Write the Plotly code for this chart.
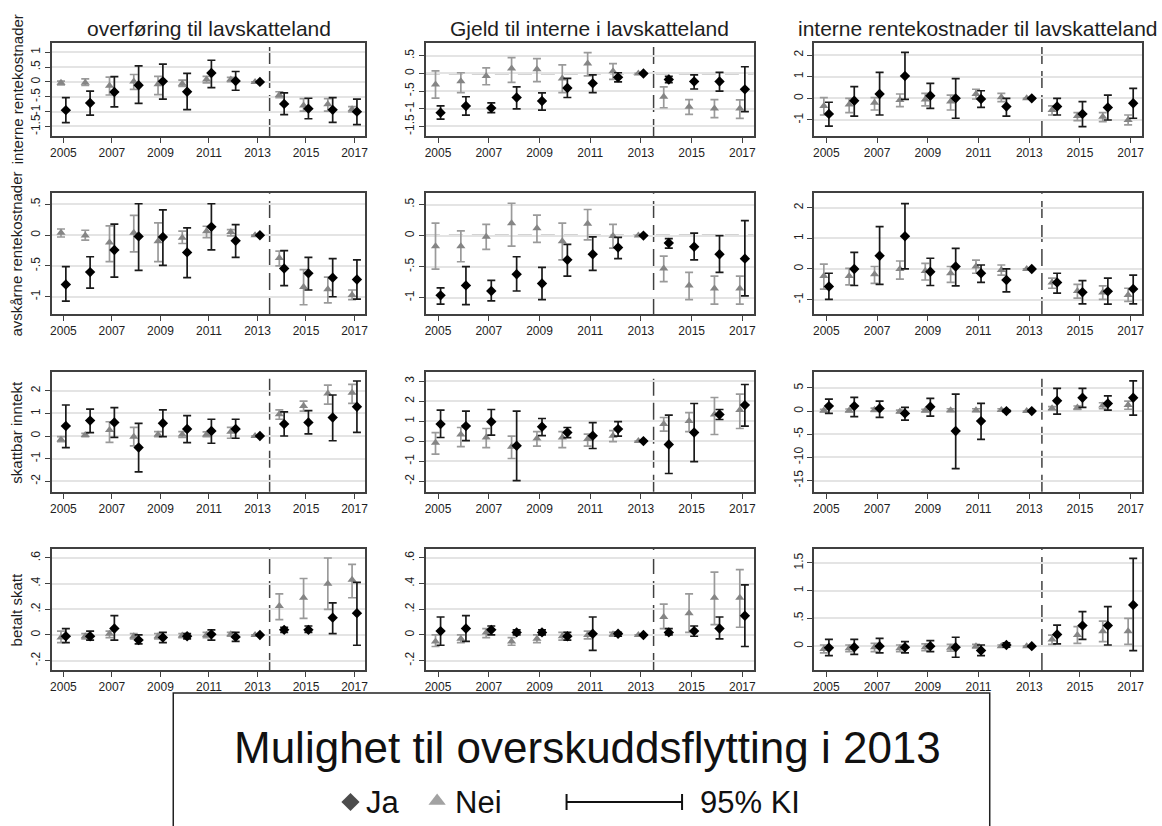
import plotly.graph_objects as go

# ---------------------------------------------------------------- data
YEARS = list(range(2005, 2018))
X_TICKS = [2005, 2007, 2009, 2011, 2013, 2015, 2017]

COL_TITLES = ["overføring til lavskatteland",
              "Gjeld til interne i lavskatteland",
              "interne rentekostnader til lavskatteland"]
ROW_TITLES = ["interne rentekostnader", "avskårne rentekostnader",
              "skattbar inntekt", "betalt skatt"]

# row 1: interne rentekostnader
int_overf_ja = [-0.95, -0.71, -0.34, -0.11, 0.02, -0.33, 0.30, 0.03, 0, -0.74, -0.90, -0.94, -1.00]
int_overf_ja_lo = [-1.37, -1.12, -0.84, -0.72, -0.58, -0.93, -0.19, -0.28, 0, -1.10, -1.24, -1.36, -1.44]
int_overf_ja_hi = [-0.53, -0.31, 0.18, 0.54, 0.60, 0.29, 0.73, 0.35, 0, -0.37, -0.55, -0.53, -0.58]
int_overf_nei = [-0.03, -0.03, -0.13, 0.01, -0.08, -0.06, 0.08, 0.08, 0, -0.44, -0.79, -0.75, -0.92]
int_overf_nei_lo = [-0.10, -0.12, -0.44, -0.25, -0.43, -0.15, -0.03, 0.01, 0, -0.53, -0.98, -0.98, -1.01]
int_overf_nei_hi = [0.03, 0.10, 0.16, 0.25, 0.19, 0.06, 0.19, 0.15, 0, -0.33, -0.56, -0.56, -0.83]

int_gjeld_ja = [-1.11, -0.92, -0.98, -0.68, -0.78, -0.41, -0.28, -0.11, 0, -0.17, -0.23, -0.23, -0.45]
int_gjeld_ja_lo = [-1.29, -1.18, -1.11, -1.00, -1.04, -0.68, -0.54, -0.24, 0, -0.26, -0.44, -0.50, -1.08]
int_gjeld_ja_hi = [-0.92, -0.66, -0.83, -0.38, -0.55, -0.14, -0.04, 0.02, 0, -0.085, -0.04, 0.03, 0.19]
int_gjeld_nei = [-0.31, -0.22, -0.075, 0.14, 0.12, -0.14, 0.28, 0.06, 0, -0.66, -0.94, -0.99, -0.99]
int_gjeld_nei_lo = [-0.70, -0.54, -0.32, -0.25, -0.23, -0.54, -0.07, -0.17, 0, -0.97, -1.16, -1.25, -1.27]
int_gjeld_nei_hi = [0.075, 0.02, 0.16, 0.45, 0.42, 0.245, 0.59, 0.28, 0, -0.38, -0.74, -0.74, -0.75]

int_rente_ja = [-0.72, -0.11, 0.20, 1.03, 0.12, 0.00, -0.03, -0.38, 0, -0.38, -0.72, -0.42, -0.23]
int_rente_ja_lo = [-1.28, -0.82, -0.77, -0.05, -0.46, -0.92, -0.42, -0.82, 0, -0.77, -1.31, -1.00, -0.92]
int_rente_ja_hi = [-0.18, 0.54, 1.20, 2.12, 0.69, 0.91, 0.35, 0.00, 0, 0.00, -0.15, 0.15, 0.46]
int_rente_nei = [-0.35, -0.28, -0.20, -0.08, -0.05, -0.15, 0.20, 0.05, 0, -0.54, -0.82, -0.85, -1.00]
int_rente_nei_lo = [-0.77, -0.66, -0.54, -0.38, -0.35, -0.54, -0.03, -0.15, 0, -0.77, -1.03, -1.08, -1.23]
int_rente_nei_hi = [0.03, 0.00, 0.03, 0.20, 0.23, 0.15, 0.42, 0.23, 0, -0.35, -0.66, -0.66, -0.77]

# row 2: avskårne rentekostnader
avsk_overf_ja = [-0.80, -0.60, -0.24, -0.02, -0.03, -0.28, 0.135, -0.09, 0, -0.54, -0.62, -0.69, -0.72]
avsk_overf_ja_lo = [-1.07, -0.86, -0.68, -0.57, -0.49, -0.69, -0.24, -0.36, 0, -0.82, -0.89, -1.00, -1.04]
avsk_overf_ja_hi = [-0.51, -0.35, 0.18, 0.51, 0.41, 0.12, 0.51, 0.17, 0, -0.25, -0.36, -0.38, -0.40]
avsk_overf_nei = [0.04, -0.005, -0.12, 0.04, -0.10, -0.04, 0.065, 0.05, 0, -0.37, -0.84, -0.88, -0.97]
avsk_overf_nei_lo = [-0.03, -0.08, -0.43, -0.27, -0.43, -0.135, -0.04, -0.01, 0, -0.50, -1.13, -1.10, -1.045]
avsk_overf_nei_hi = [0.10, 0.08, 0.15, 0.32, 0.20, 0.065, 0.145, 0.09, 0, -0.26, -0.56, -0.68, -0.89]

avsk_gjeld_ja = [-0.96, -0.80, -0.89, -0.62, -0.77, -0.39, -0.30, -0.19, 0, -0.12, -0.18, -0.30, -0.37]
avsk_gjeld_ja_lo = [-1.10, -1.11, -1.05, -0.89, -1.03, -0.65, -0.56, -0.37, 0, -0.20, -0.39, -0.59, -0.97]
avsk_gjeld_ja_hi = [-0.84, -0.50, -0.72, -0.34, -0.51, -0.14, -0.02, -0.03, 0, -0.05, 0.04, 0.00, 0.24]
avsk_gjeld_nei = [-0.17, -0.17, -0.02, 0.20, 0.12, -0.09, 0.19, -0.005, 0, -0.53, -0.80, -0.85, -0.85]
avsk_gjeld_nei_lo = [-0.54, -0.42, -0.22, -0.17, -0.11, -0.39, -0.07, -0.20, 0, -0.74, -1.03, -1.10, -1.10]
avsk_gjeld_nei_hi = [0.20, 0.075, 0.18, 0.52, 0.33, 0.20, 0.42, 0.18, 0, -0.33, -0.59, -0.65, -0.65]

avsk_rente_ja = [-0.57, 0.00, 0.43, 1.07, -0.09, 0.08, -0.14, -0.36, 0, -0.44, -0.76, -0.73, -0.65]
avsk_rente_ja_lo = [-0.99, -0.54, -0.50, 0.00, -0.54, -0.55, -0.44, -0.75, 0, -0.79, -1.14, -1.15, -1.14]
avsk_rente_ja_hi = [-0.14, 0.54, 1.38, 2.13, 0.35, 0.67, 0.13, 0.00, 0, -0.14, -0.38, -0.30, -0.20]
avsk_rente_nei = [-0.23, -0.23, -0.17, 0.00, -0.07, -0.14, 0.08, -0.03, 0, -0.44, -0.72, -0.77, -0.85]
avsk_rente_nei_lo = [-0.66, -0.52, -0.47, -0.33, -0.36, -0.44, -0.14, -0.20, 0, -0.63, -0.95, -0.99, -1.06]
avsk_rente_nei_hi = [0.16, 0.02, 0.08, 0.26, 0.18, 0.08, 0.29, 0.13, 0, -0.30, -0.50, -0.55, -0.63]

# row 3: skattbar inntekt
innt_overf_ja = [0.44, 0.68, 0.60, -0.51, 0.56, 0.31, 0.22, 0.31, 0, 0.53, 0.60, 0.82, 1.29]
innt_overf_ja_lo = [-0.51, 0.15, -0.06, -1.58, -0.03, -0.29, -0.32, -0.10, 0, 0.00, 0.09, -0.21, 0.16]
innt_overf_ja_hi = [1.37, 1.19, 1.25, 0.56, 1.15, 0.90, 0.74, 0.74, 0, 1.07, 1.12, 1.81, 2.43]
innt_overf_nei = [-0.15, 0.04, 0.26, -0.03, 0.07, 0.07, 0.07, 0.19, 0, 0.96, 1.32, 1.88, 1.91]
innt_overf_nei_lo = [-0.25, -0.03, -0.28, -0.44, -0.03, -0.06, -0.03, -0.10, 0, 0.74, 1.10, 1.41, 1.44]
innt_overf_nei_hi = [-0.03, 0.12, 0.63, 0.38, 0.19, 0.19, 0.18, 0.38, 0, 1.15, 1.54, 2.25, 2.28]

innt_gjeld_ja = [0.85, 0.75, 0.97, -0.23, 0.72, 0.43, 0.27, 0.60, 0, -0.17, 0.43, 1.33, 1.80]
innt_gjeld_ja_lo = [0.18, 0.02, 0.30, -1.98, 0.27, 0.17, -0.37, 0.25, 0, -1.62, -1.03, 1.08, 0.75]
innt_gjeld_ja_hi = [1.55, 1.50, 1.58, 1.50, 1.13, 0.68, 0.92, 0.97, 0, 1.30, 1.88, 1.58, 2.83]
innt_gjeld_nei = [-0.08, 0.33, 0.18, -0.28, 0.13, 0.18, 0.10, 0.27, 0, 0.85, 1.00, 1.33, 1.55]
innt_gjeld_nei_lo = [-0.65, -0.28, -0.33, -0.87, -0.25, -0.33, -0.25, -0.03, 0, 0.50, 0.47, 0.33, 0.63]
innt_gjeld_nei_hi = [0.42, 0.68, 0.63, 0.25, 0.47, 0.47, 0.35, 0.52, 0, 1.18, 1.42, 2.18, 2.35]

innt_rente_ja = [1.08, 1.08, 0.58, -0.50, 0.94, -4.30, -2.16, 0.00, 0, 2.23, 2.88, 1.65, 2.88]
innt_rente_ja_lo = [-0.50, -1.20, -1.37, -1.94, -1.08, -12.4, -6.10, -0.20, 0, -0.65, 0.80, 0.20, -0.86]
innt_rente_ja_hi = [2.60, 2.95, 2.16, 0.80, 2.73, 3.67, 1.65, 0.20, 0, 4.90, 4.90, 3.30, 6.50]
innt_rente_nei = [0.10, 0.15, 0.30, -0.10, 0.10, 0.20, 0.20, 0.25, 0, 0.60, 0.75, 1.20, 1.30]
innt_rente_nei_lo = [-0.20, -0.15, -0.05, -0.40, -0.20, -0.10, -0.10, 0.00, 0, 0.25, 0.35, 0.50, 0.40]
innt_rente_nei_hi = [0.40, 0.45, 0.65, 0.20, 0.40, 0.50, 0.50, 0.50, 0, 0.95, 1.10, 1.80, 2.15]

# row 4: betalt skatt
skatt_overf_ja = [-0.01, -0.01, 0.05, -0.04, -0.02, -0.01, 0.005, -0.015, 0, 0.04, 0.04, 0.135, 0.17]
skatt_overf_ja_lo = [-0.06, -0.04, -0.04, -0.07, -0.06, -0.03, -0.04, -0.05, 0, 0.02, 0.02, 0.01, -0.08]
skatt_overf_ja_hi = [0.05, 0.03, 0.15, 0.00, 0.02, 0.01, 0.04, 0.02, 0, 0.06, 0.07, 0.25, 0.41]
skatt_overf_nei = [-0.02, -0.01, 0.01, -0.01, -0.01, -0.005, 0.00, 0.005, 0, 0.226, 0.29, 0.40, 0.43]
skatt_overf_nei_lo = [-0.06, -0.03, -0.02, -0.03, -0.03, -0.02, -0.02, -0.01, 0, 0.12, 0.13, 0.20, 0.29]
skatt_overf_nei_hi = [0.03, 0.01, 0.03, 0.01, 0.01, 0.01, 0.02, 0.02, 0, 0.32, 0.44, 0.60, 0.55]

skatt_gjeld_ja = [0.03, 0.05, 0.04, 0.02, 0.02, -0.01, 0.01, 0.01, 0, 0.02, 0.03, 0.05, 0.15]
skatt_gjeld_ja_lo = [-0.08, -0.05, 0.00, 0.00, 0.00, -0.04, -0.12, -0.01, 0, 0.00, -0.01, -0.03, -0.09]
skatt_gjeld_ja_hi = [0.14, 0.15, 0.07, 0.04, 0.04, 0.02, 0.14, 0.02, 0, 0.05, 0.07, 0.14, 0.39]
skatt_gjeld_nei = [-0.05, -0.03, 0.02, -0.05, -0.03, -0.01, 0.00, 0.005, 0, 0.14, 0.17, 0.29, 0.29]
skatt_gjeld_nei_lo = [-0.09, -0.06, -0.02, -0.08, -0.06, -0.04, -0.03, -0.01, 0, 0.05, 0.02, 0.08, 0.06]
skatt_gjeld_nei_hi = [0.00, 0.00, 0.05, -0.02, 0.00, 0.02, 0.03, 0.02, 0, 0.24, 0.32, 0.49, 0.51]

skatt_rente_ja = [-0.03, -0.02, 0.00, -0.02, 0.00, -0.02, -0.08, 0.02, 0, 0.21, 0.37, 0.37, 0.74]
skatt_rente_ja_lo = [-0.17, -0.15, -0.12, -0.12, -0.10, -0.20, -0.17, -0.02, 0, 0.04, 0.12, 0.02, -0.08]
skatt_rente_ja_hi = [0.12, 0.12, 0.14, 0.08, 0.10, 0.16, 0.02, 0.06, 0, 0.38, 0.62, 0.71, 1.58]
skatt_rente_nei = [-0.05, -0.04, -0.02, -0.04, -0.02, -0.03, 0.00, 0.00, 0, 0.12, 0.20, 0.27, 0.27]
skatt_rente_nei_lo = [-0.12, -0.10, -0.10, -0.10, -0.08, -0.09, -0.03, -0.02, 0, 0.03, 0.05, 0.08, 0.03]
skatt_rente_nei_hi = [0.02, 0.02, 0.05, 0.02, 0.04, 0.03, 0.03, 0.02, 0, 0.20, 0.35, 0.45, 0.50]

# y-axis ticks (values and labels) per panel
ticks_15_1 = ([-1.5, -1, -0.5, 0, 0.5, 1], ["-1.5", "-1", "-.5", "0", ".5", "1"])
ticks_15_05 = ([-1.5, -1, -0.5, 0, 0.5], ["-1.5", "-1", "-.5", "0", ".5"])
ticks_1_2 = ([-1, 0, 1, 2], ["-1", "0", "1", "2"])
ticks_1_05 = ([-1, -0.5, 0, 0.5], ["-1", "-.5", "0", ".5"])
ticks_2_2 = ([-2, -1, 0, 1, 2], ["-2", "-1", "0", "1", "2"])
ticks_2_3 = ([-2, -1, 0, 1, 2, 3], ["-2", "-1", "0", "1", "2", "3"])
ticks_15_5 = ([-15, -10, -5, 0, 5], ["-15", "-10", "-5", "0", "5"])
ticks_02_06 = ([-0.2, 0, 0.2, 0.4, 0.6], ["-.2", "0", ".2", ".4", ".6"])
ticks_0_15 = ([0, 0.5, 1, 1.5], ["0", ".5", "1", "1.5"])

# ---------------------------------------------------------------- layout constants
W, H = 1162, 826
FONT = "Liberation Sans, Arial, Helvetica, sans-serif"
INK = "#1e1e1e"
FRAME = "#404040"
GRID = "#e4e4e4"
JA_COLOR = "#000000"
JA_CI = "#1a1a1a"
NEI_COLOR = "#858585"
NEI_CI = "#9a9a9a"
X_RANGE = [2004.52, 2017.45]
SHIFT = 0.1
CUTOFF = 2013.5

COL_PX = [(50, 365), (425.7, 755), (815.7, 1145)]
ROW_PX = [(42.7, 136), (193.3, 314), (371.7, 491.7), (549, 670)]


def fx(p):
    return p / W


def fy(p):
    return 1 - p / H


panels = [
    (0, 0, int_overf_ja, int_overf_ja_lo, int_overf_ja_hi, int_overf_nei, int_overf_nei_lo, int_overf_nei_hi, [-1.82, 1.32], ticks_15_1),
    (0, 1, int_gjeld_ja, int_gjeld_ja_lo, int_gjeld_ja_hi, int_gjeld_nei, int_gjeld_nei_lo, int_gjeld_nei_hi, [-1.77, 0.87], ticks_15_05),
    (0, 2, int_rente_ja, int_rente_ja_lo, int_rente_ja_hi, int_rente_nei, int_rente_nei_lo, int_rente_nei_hi, [-1.74, 2.57], ticks_1_2),
    (1, 0, avsk_overf_ja, avsk_overf_ja_lo, avsk_overf_ja_hi, avsk_overf_nei, avsk_overf_nei_lo, avsk_overf_nei_hi, [-1.28, 0.68], ticks_1_05),
    (1, 1, avsk_gjeld_ja, avsk_gjeld_ja_lo, avsk_gjeld_ja_hi, avsk_gjeld_nei, avsk_gjeld_nei_lo, avsk_gjeld_nei_hi, [-1.26, 0.68], ticks_1_05),
    (1, 2, avsk_rente_ja, avsk_rente_ja_lo, avsk_rente_ja_hi, avsk_rente_nei, avsk_rente_nei_lo, avsk_rente_nei_hi, [-1.47, 2.47], ticks_1_2),
    (2, 0, innt_overf_ja, innt_overf_ja_lo, innt_overf_ja_hi, innt_overf_nei, innt_overf_nei_lo, innt_overf_nei_hi, [-2.46, 2.84], ticks_2_2),
    (2, 1, innt_gjeld_ja, innt_gjeld_ja_lo, innt_gjeld_ja_hi, innt_gjeld_nei, innt_gjeld_nei_lo, innt_gjeld_nei_hi, [-2.53, 3.47], ticks_2_3),
    (2, 2, innt_rente_ja, innt_rente_ja_lo, innt_rente_ja_hi, innt_rente_nei, innt_rente_nei_lo, innt_rente_nei_hi, [-17.4, 8.5], ticks_15_5),
    (3, 0, skatt_overf_ja, skatt_overf_ja_lo, skatt_overf_ja_hi, skatt_overf_nei, skatt_overf_nei_lo, skatt_overf_nei_hi, [-0.273, 0.67], ticks_02_06),
    (3, 1, skatt_gjeld_ja, skatt_gjeld_ja_lo, skatt_gjeld_ja_hi, skatt_gjeld_nei, skatt_gjeld_nei_lo, skatt_gjeld_nei_hi, [-0.273, 0.67], ticks_02_06),
    (3, 2, skatt_rente_ja, skatt_rente_ja_lo, skatt_rente_ja_hi, skatt_rente_nei, skatt_rente_nei_lo, skatt_rente_nei_hi, [-0.43, 1.75], ticks_0_15),
]

fig = go.Figure()
shapes = []
annotations = []
layout_axes = {}


def ci_trace(years, est, lo, hi, xa, ya, symbol, size, mcolor, ccolor):
    return go.Scatter(
        x=years, y=est, mode="markers", xaxis=xa, yaxis=ya,
        marker=dict(symbol=symbol, size=size, color=mcolor, line=dict(width=0)),
        error_y=dict(type="data", symmetric=False,
                     array=[h - e for h, e in zip(hi, est)],
                     arrayminus=[e - l for e, l in zip(est, lo)],
                     color=ccolor, thickness=1.7, width=4),
        showlegend=False, hoverinfo="skip", cliponaxis=False,
    )


for k, (r, c, ja, ja_lo, ja_hi, nei, nei_lo, nei_hi, yr, (tv, tt)) in enumerate(panels, start=1):
    sfx = "" if k == 1 else str(k)
    xa, ya = "x" + sfx, "y" + sfx
    x0, x1 = COL_PX[c]
    y0, y1 = ROW_PX[r]

    fig.add_trace(ci_trace([y - SHIFT for y in YEARS], nei, nei_lo, nei_hi, xa, ya,
                           "triangle-up", 8, NEI_COLOR, NEI_CI))
    fig.add_trace(ci_trace([y + SHIFT for y in YEARS], ja, ja_lo, ja_hi, xa, ya,
                           "diamond", 8, JA_COLOR, JA_CI))

    layout_axes["xaxis" + sfx] = dict(
        domain=[fx(x0), fx(x1)], anchor=ya, range=X_RANGE,
        tickvals=X_TICKS, ticktext=[str(t) for t in X_TICKS],
        ticks="outside", ticklen=5, tickwidth=1.2, tickcolor=FRAME,
        showline=True, linecolor=FRAME, linewidth=1.6, mirror=True,
        showgrid=False, zeroline=False,
        tickfont=dict(family=FONT, size=12, color=INK),
    )
    layout_axes["yaxis" + sfx] = dict(
        domain=[fy(y1), fy(y0)], anchor=xa, range=yr,
        tickvals=tv, ticktext=tt, tickangle=-90,
        ticks="outside", ticklen=5, tickwidth=1.2, tickcolor=FRAME,
        showline=True, linecolor=FRAME, linewidth=1.6, mirror=True,
        showgrid=True, gridcolor=GRID, gridwidth=1.6, zeroline=False,
        tickfont=dict(family=FONT, size=12, color=INK),
    )

    # reference line at zero and the 2013 cut-off
    shapes.append(dict(type="line", xref=xa, yref=ya, x0=X_RANGE[0], x1=X_RANGE[1],
                       y0=0, y1=0, layer="below",
                       line=dict(color="#505050", width=1.5, dash="14px,9px")))
    shapes.append(dict(type="line", xref=xa, yref="paper", x0=CUTOFF, x1=CUTOFF,
                       y0=fy(y1), y1=fy(y0), layer="below",
                       line=dict(color="#404040", width=1.5, dash="17px,7px")))

# column titles
for c, title in enumerate(COL_TITLES):
    annotations.append(dict(text=title, xref="paper", yref="paper",
                            x=fx(sum(COL_PX[c]) / 2), y=fy(28), showarrow=False,
                            xanchor="center", yanchor="middle",
                            font=dict(family=FONT, size=21, color=INK)))

# row titles
for r, title in enumerate(ROW_TITLES):
    annotations.append(dict(text=title, xref="paper", yref="paper",
                            x=fx(15), y=fy(sum(ROW_PX[r]) / 2), showarrow=False,
                            textangle=-90, xanchor="center", yanchor="middle",
                            font=dict(family=FONT, size=15, color=INK)))

# ---------------------------------------------------------------- legend box
LEG_BOX = (172, 693, 992, 832)
LEG_TITLE_Y = 747
LEG_ITEM_Y = 802

shapes.append(dict(type="rect", xref="paper", yref="paper",
                   x0=fx(LEG_BOX[0]), x1=fx(LEG_BOX[2]), y0=fy(LEG_BOX[3]), y1=fy(LEG_BOX[1]),
                   line=dict(color="#222222", width=1.5), layer="above"))
annotations.append(dict(text="Mulighet til overskuddsflytting i 2013", xref="paper", yref="paper",
                        x=fx(588), y=fy(LEG_TITLE_Y), showarrow=False,
                        xanchor="center", yanchor="middle",
                        font=dict(family=FONT, size=44, color="#111111")))
for label, left in [("Ja", 364), ("Nei", 453), ("95% KI", 699)]:
    annotations.append(dict(text=label, xref="paper", yref="paper",
                            x=fx(left), y=fy(LEG_ITEM_Y), showarrow=False,
                            xanchor="left", yanchor="middle",
                            font=dict(family=FONT, size=31, color="#111111")))

# confidence-interval key
CI_KEY = (567, 683)
shapes.append(dict(type="line", xref="paper", yref="paper",
                   x0=fx(CI_KEY[0]), x1=fx(CI_KEY[1]), y0=fy(LEG_ITEM_Y), y1=fy(LEG_ITEM_Y),
                   line=dict(color="#111111", width=2)))
for xk in CI_KEY:
    shapes.append(dict(type="line", xref="paper", yref="paper",
                       x0=fx(xk), x1=fx(xk), y0=fy(LEG_ITEM_Y - 8), y1=fy(LEG_ITEM_Y + 8),
                       line=dict(color="#111111", width=2)))

# marker keys on a full-figure overlay axis in pixel units
fig.add_trace(go.Scatter(
    x=[350, 437], y=[LEG_ITEM_Y, LEG_ITEM_Y - 1], mode="markers",
    xaxis="x13", yaxis="y13",
    marker=dict(symbol=["diamond", "triangle-up"], size=[14, 15],
                color=[JA_COLOR, "#7a7a7a"], line=dict(width=0)),
    showlegend=False, hoverinfo="skip", cliponaxis=False,
))
layout_axes["xaxis13"] = dict(domain=[0, 1], range=[0, W], visible=False, anchor="y13",
                              fixedrange=True)
layout_axes["yaxis13"] = dict(domain=[0, 1], range=[H, 0], visible=False, anchor="x13",
                              fixedrange=True)

fig.update_layout(
    width=W, height=H,
    margin=dict(l=0, r=0, t=0, b=0),
    paper_bgcolor="white", plot_bgcolor="rgba(0,0,0,0)",
    showlegend=False,
    shapes=shapes, annotations=annotations,
    font=dict(family=FONT, color=INK),
    **layout_axes,
)

fig.write_html("out.html")
